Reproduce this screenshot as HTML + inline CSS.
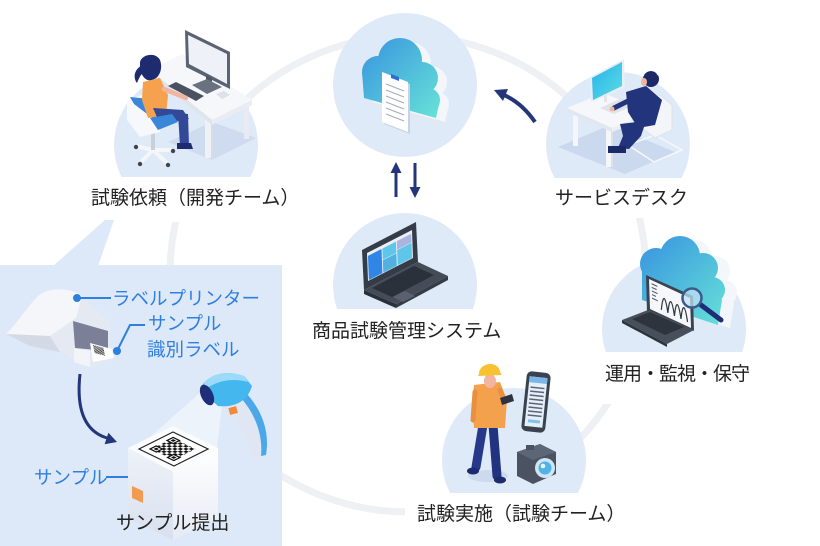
<!DOCTYPE html>
<html><head><meta charset="utf-8">
<style>
html,body{margin:0;padding:0;background:#fff;}
svg{display:block;}
text{font-family:"Liberation Sans","Noto Sans CJK JP",sans-serif;}
</style></head>
<body>
<svg width="820" height="546" viewBox="0 0 820 546" xmlns="http://www.w3.org/2000/svg">
<defs>
 <linearGradient id="cg1" gradientUnits="userSpaceOnUse" x1="360" y1="45" x2="440" y2="120">
  <stop offset="0" stop-color="#3a96df"/><stop offset="1" stop-color="#67e4d7"/>
 </linearGradient>
 <linearGradient id="cg2" gradientUnits="userSpaceOnUse" x1="640" y1="245" x2="725" y2="330">
  <stop offset="0" stop-color="#3a96df"/><stop offset="1" stop-color="#67e4d7"/>
 </linearGradient>
 <linearGradient id="scr" x1="0" y1="0" x2="1" y2="1">
  <stop offset="0" stop-color="#27b2e8"/><stop offset="1" stop-color="#5cdce6"/>
 </linearGradient>
 <linearGradient id="boxL" x1="0" y1="0" x2="0" y2="1">
  <stop offset="0" stop-color="#eef2f9"/><stop offset="1" stop-color="#d9e0ee"/>
 </linearGradient>
 <linearGradient id="boxR" x1="0" y1="0" x2="0" y2="1">
  <stop offset="0" stop-color="#ffffff"/><stop offset="1" stop-color="#e6ebf4"/>
 </linearGradient>
 <pattern id="chk" width="16" height="16" patternUnits="userSpaceOnUse">
  <rect width="8" height="8" fill="#111"/><rect x="8" y="8" width="8" height="8" fill="#111"/>
 </pattern>
</defs>

<rect width="820" height="546" fill="#fff"/>
<!-- ring -->
<circle cx="408" cy="274" r="238" fill="none" stroke="#eff0f3" stroke-width="7"/>

<!-- node circles -->
<g fill="#dfeaf8">
 <circle cx="186" cy="145" r="72"/>
 <circle cx="405" cy="85" r="72"/>
 <circle cx="618" cy="144" r="72"/>
 <circle cx="405" cy="285" r="72"/>
 <circle cx="674" cy="329" r="72"/>
 <circle cx="514" cy="460" r="72"/>
</g>

<!-- ===== Woman at desk ===== -->
<polygon points="168,142 212,122 256,138 212,160" fill="#cfdbee"/>
<rect x="205" y="118" width="6" height="40" fill="#eef1f6"/>
<rect x="211" y="118" width="2" height="40" fill="#d7dde8"/>
<rect x="244" y="103" width="5" height="36" fill="#e8ecf2"/>
<polygon points="150,70 182,54 252,100 212,120" fill="#f5f7fa"/>
<polygon points="150,70 212,120 212,125 150,75" fill="#dfe4ed"/>
<polygon points="212,120 252,100 252,105 212,125" fill="#e9edf3"/>
<!-- monitor -->
<polygon points="185,30 230,52 230,89 186,67" fill="#5b6373"/>
<polygon points="188,35 227,54 227,84 189,64" fill="#eef1f7"/>
<polygon points="206,75 212,78 212,88 206,85" fill="#4f5664"/>
<polygon points="192,85 207,79 222,87 207,94" fill="#6a7180"/>
<!-- keyboard -->
<polygon points="168,86 176,82 204,96 196,101" fill="#4a5160"/>
<polygon points="216,94 224,91 230,95 222,99" fill="#dde2ea"/>
<!-- chair -->
<g stroke="#f5f6fa" stroke-width="4" stroke-linecap="round">
 <line x1="153" y1="150" x2="136" y2="146"/>
 <line x1="153" y1="150" x2="140" y2="163"/>
 <line x1="153" y1="150" x2="168" y2="164"/>
 <line x1="153" y1="150" x2="172" y2="150"/>
</g>
<g fill="#3d4452">
 <circle cx="136" cy="147" r="2.2"/><circle cx="140" cy="164" r="2.2"/>
 <circle cx="168" cy="165" r="2.2"/><circle cx="173" cy="151" r="2.2"/>
</g>
<rect x="151" y="128" width="4" height="22" fill="#c9d0dc"/>
<polygon points="127,100 145,94 160,110 160,132 140,137 127,120" fill="#f7f8fb"/>
<polygon points="130,97 150,99 165,117 162,128 151,117 134,104" fill="#3a86d8"/>
<!-- woman -->
<path d="M140,62 C142,54 156,52 160,60 C163,68 160,78 152,80 C146,82 142,76 140,70 Z" fill="#1e2b6e"/>
<path d="M141,66 C134,70 133,78 137,83 C139,78 141,74 144,72 Z" fill="#1e2b6e"/>
<polygon points="143,82 160,78 168,95 166,115 148,118 142,100" fill="#f5a14d"/>
<line x1="164" y1="89" x2="186" y2="98" stroke="#f1b49e" stroke-width="4.5" stroke-linecap="round"/>
<polygon points="153,108 183,110 189,119 160,124" fill="#34489a"/>
<polygon points="178,113 188,114 189,146 180,146" fill="#34489a"/>
<polygon points="177,143 191,143 193,149 177,149" fill="#1e2b6e"/>
<polygon points="150,118 172,114 178,122 158,130" fill="#3a86d8"/>

<!-- ===== Cloud node ===== -->
<g fill="#f3f6fb" transform="translate(9,4)">
 <circle cx="378" cy="72" r="16"/><circle cx="400" cy="60" r="22"/>
 <circle cx="422" cy="78" r="16"/><circle cx="428" cy="100" r="12"/>
 <polygon points="362,72 420,70 440,100 436,118 364,98"/>
</g>
<g fill="#e3e9f3" transform="translate(9,4)">
 <polygon points="364,98 436,118 436,121 364,101"/>
</g>
<g fill="url(#cg1)">
 <circle cx="378" cy="72" r="16"/><circle cx="400" cy="60" r="22"/>
 <circle cx="422" cy="78" r="16"/><circle cx="428" cy="100" r="12"/>
 <polygon points="362,72 420,70 440,100 436,118 364,98"/>
</g>
<polygon points="384,74 410,84 410,134 384,124" fill="#c9d2e2"/>
<polygon points="382,72 408,82 408,132 382,122" fill="#ffffff"/>
<g stroke="#a3abbb" stroke-width="1">
 <line x1="386" y1="84" x2="404" y2="91"/><line x1="386" y1="90" x2="404" y2="97"/>
 <line x1="386" y1="96" x2="404" y2="103"/><line x1="386" y1="102" x2="404" y2="109"/>
 <line x1="386" y1="108" x2="404" y2="115"/><line x1="386" y1="114" x2="404" y2="121"/>
</g>
<polygon points="391,74 399,77 399,81 391,78" fill="#2d6fd1"/>

<!-- vertical arrows -->
<line x1="396" y1="197" x2="396" y2="171" stroke="#23367a" stroke-width="3"/>
<polygon points="396,162 390.5,173 401.5,173" fill="#23367a"/>
<line x1="415" y1="163" x2="415" y2="189" stroke="#23367a" stroke-width="3"/>
<polygon points="415,198 409.5,187 420.5,187" fill="#23367a"/>

<!-- curved arrow -->
<path d="M535,122 Q522,103 504,95" fill="none" stroke="#23367a" stroke-width="4"/>
<polygon points="494,90 508,89 503,101" fill="#23367a"/>

<!-- ===== Service desk ===== -->
<polygon points="558,147 610,125 675,152 625,174" fill="#cbd9ee"/>
<polygon points="628,145 655,135 682,150 654,162" fill="none" stroke="#f5f7fb" stroke-width="1.5"/>
<rect x="573" y="112" width="5" height="34" fill="#f5f6f9"/>
<rect x="606" y="122" width="5" height="45" fill="#f5f6f9"/>
<rect x="611" y="122" width="2" height="45" fill="#dbe1ea"/>
<polygon points="567,108 603,93 652,112 612,128" fill="#f6f7fa"/>
<polygon points="567,108 612,128 612,132 567,112" fill="#e2e7ef"/>
<polygon points="612,128 652,112 652,116 612,132" fill="#eceff4"/>
<polygon points="590,77 624,59 625,88 591,102" fill="#e9eef5"/>
<polygon points="592,78 622,62 622,86 593,100" fill="url(#scr)"/>
<rect x="604" y="94" width="3" height="8" fill="#e0e5ed"/>
<polygon points="600,108 622,98 637,104 614,114" fill="#dfe3ea"/>
<polygon points="642,103 660,95 672,105 672,130 655,138 642,128" fill="#f3f5f9" stroke="#dde3ec" stroke-width="1"/>
<polygon points="626,92 646,86 662,100 655,125 638,128 628,112" fill="#22347c"/>
<line x1="630" y1="100" x2="614" y2="108" stroke="#22347c" stroke-width="5" stroke-linecap="round"/>
<circle cx="612" cy="109" r="2.5" fill="#f1b49e"/>
<polygon points="620,124 646,121 641,136 629,149 618,148 623,136" fill="#22347c"/>
<polygon points="608,146 626,146 626,153 608,153" fill="#1b2a66"/>
<circle cx="651" cy="79" r="8" fill="#1b2a66"/>
<ellipse cx="644" cy="82" rx="3" ry="4" fill="#f1b49e"/>
<path d="M643,76 C644,69 656,68 658,75" fill="none" stroke="#ffffff" stroke-width="1.5"/>

<!-- ===== Laptop node ===== -->
<polygon points="362,250 416,222 418,262 364,290" fill="#343c48"/>
<g transform="matrix(0.45,-0.23,0.01,0.28,367,253)">
 <rect x="0" y="0" width="100" height="100" fill="#e9eef7"/>
 <rect x="2" y="12" width="30" height="86" fill="#2f86e6"/>
 <rect x="34" y="12" width="30" height="40" fill="#5ec7e9"/>
 <rect x="34" y="54" width="30" height="44" fill="#4fb2e0"/>
 <rect x="66" y="12" width="32" height="30" fill="#a9b5dd"/>
 <rect x="66" y="44" width="32" height="54" fill="#5ec7e9"/>
</g>
<polygon points="364,290 418,262 448,276 396,304" fill="#444c58"/>
<polygon points="364,290 396,304 396,308 364,294" fill="#2a3039"/>
<polygon points="396,304 448,276 448,280 396,308" fill="#353c46"/>
<polygon points="372,288 414,266 434,275 392,297" fill="#2b313b"/>
<polygon points="393,297 405,291 415,296 403,302" fill="#59616e"/>

<!-- ===== Monitoring node ===== -->
<g fill="#f3f6fb" transform="translate(12,3)">
 <circle cx="656" cy="264" r="16"/><circle cx="680" cy="256" r="20"/>
 <circle cx="703" cy="268" r="15"/><circle cx="712" cy="290" r="13"/>
 <polygon points="642,268 705,262 722,300 718,325 642,300"/>
</g>
<g fill="url(#cg2)">
 <circle cx="656" cy="264" r="16"/><circle cx="680" cy="256" r="20"/>
 <circle cx="703" cy="268" r="15"/><circle cx="712" cy="290" r="13"/>
 <polygon points="642,268 705,262 722,300 718,325 642,300"/>
</g>
<polygon points="646,275 693,296 694,331 647,313" fill="#3a4350"/>
<g transform="matrix(0.41,0.19,0.01,0.30,649,279)">
 <rect x="0" y="0" width="100" height="100" fill="#f5f7fb"/>
 <g fill="#555c68">
  <rect x="6" y="10" width="14" height="4"/><rect x="6" y="22" width="12" height="4"/>
  <rect x="6" y="34" width="14" height="4"/><rect x="6" y="46" width="10" height="4"/>
  <rect x="6" y="58" width="14" height="4"/>
 </g>
 <path d="M28,85 Q36,0 44,85 Q52,0 60,85 Q68,0 76,85 Q84,0 92,85" fill="none" stroke="#2f3640" stroke-width="1.2" vector-effect="non-scaling-stroke"/>
</g>
<polygon points="622,320 648,310 694,330 667,344" fill="#474f5b"/>
<polygon points="622,320 667,344 667,347 622,323" fill="#2d333c"/>
<polygon points="632,319 650,312 684,327 665,335" fill="#2e343d"/>
<line x1="701" y1="305" x2="721" y2="320" stroke="#1f2e7a" stroke-width="5" stroke-linecap="round"/>
<circle cx="692" cy="298" r="9.5" fill="#bfe2f4" fill-opacity="0.75" stroke="#3d5a8c" stroke-width="2.5"/>

<!-- ===== Test person node ===== -->
<ellipse cx="488" cy="476" rx="20" ry="6" fill="#cddaee"/>
<line x1="483" y1="425" x2="476" y2="467" stroke="#26388a" stroke-width="9" stroke-linecap="round"/>
<line x1="493" y1="425" x2="497" y2="476" stroke="#22337f" stroke-width="9" stroke-linecap="round"/>
<ellipse cx="473" cy="471" rx="6" ry="3.5" fill="#1d2a6e"/>
<ellipse cx="500" cy="480" rx="6" ry="3.5" fill="#1d2a6e"/>
<polygon points="474,385 500,382 507,400 505,428 474,428 472,405" fill="#f4a14e"/>
<line x1="475" y1="392" x2="473" y2="420" stroke="#e8903e" stroke-width="5" stroke-linecap="round"/>
<line x1="500" y1="390" x2="505" y2="402" stroke="#e8903e" stroke-width="5" stroke-linecap="round"/>
<polygon points="500,398 512,394 514,401 502,405" fill="#2d3440"/>
<ellipse cx="490" cy="381" rx="6" ry="7" fill="#f1b5a0"/>
<path d="M479,374 C479,362 499,360 500,372 L502,375 L478,376 Z" fill="#f6c232"/>
<g transform="rotate(6 536 402)">
 <rect x="524" y="372" width="24" height="60" rx="5" fill="#3a4250"/>
 <rect x="527" y="377" width="18" height="50" fill="#e6eef8"/>
 <rect x="527" y="377" width="18" height="6" fill="#7ab6e8"/>
 <g fill="#5c6577">
  <rect x="529" y="387" width="14" height="1.5"/><rect x="529" y="391" width="14" height="1.5"/>
  <rect x="529" y="395" width="14" height="1.5"/><rect x="529" y="399" width="14" height="1.5"/>
  <rect x="529" y="403" width="14" height="1.5"/><rect x="529" y="407" width="14" height="1.5"/>
  <rect x="529" y="411" width="14" height="1.5"/><rect x="529" y="415" width="14" height="1.5"/>
 </g>
 <rect x="530" y="420" width="12" height="3" fill="#7ec3ee"/>
</g>
<polygon points="517,452 540,444 556,452 556,474 533,484 517,476" fill="#4b5362"/>
<polygon points="517,452 540,444 556,452 533,460" fill="#5d6676"/>
<rect x="526" y="445" width="8" height="5" fill="#4b5362"/>
<circle cx="545" cy="468" r="10" fill="#cfe5f3"/>
<circle cx="545" cy="468" r="6.5" fill="#4fb3e5"/>
<circle cx="543" cy="466" r="2.3" fill="#e8f6fd"/>

<!-- ===== label bands ===== -->
<g fill="#ffffff">
 <rect x="80" y="177" width="225" height="45"/>
 <rect x="540" y="178" width="165" height="40"/>
 <rect x="300" y="309" width="215" height="51"/>
 <rect x="592" y="352" width="170" height="52"/>
 <rect x="405" y="493" width="225" height="42"/>
</g>

<!-- ===== left panel ===== -->
<polygon points="105,220 114,220 98,266 53,266" fill="#dde9f8"/>
<rect x="0" y="265" width="282" height="281" fill="#dde9f8"/>

<!-- printer -->
<path d="M6,334 C18,322 28,306 38,296 C48,287 70,287 82,296 L110,322 L110,360 L92,368 L60,352 Z" fill="#e4e9f2"/>
<path d="M6,334 C18,322 28,306 38,296 C48,287 70,287 82,296 L76,318 L50,336 Z" fill="#f4f6f9"/>
<polygon points="6,334 50,336 60,352 30,346" fill="#d3dae6"/>
<polygon points="73,321 108,331 108,351 75,348" fill="#7b7f98"/>
<polygon points="74,348 90,351 90,367 74,362" fill="#f3f4f8"/>
<polygon points="90,343 112,349 114,358 93,362" fill="#ffffff"/>
<g transform="matrix(0.13,0.035,0.02,0.1,93,345)">
 <rect x="0" y="0" width="80" height="80" fill="url(#chk)"/>
</g>
<!-- callouts -->
<g fill="#2e7fe0" stroke="#2e7fe0">
 <circle cx="77" cy="298" r="4" stroke="none"/>
 <line x1="77" y1="298" x2="111" y2="298" stroke-width="2"/>
 <circle cx="117" cy="351" r="4" stroke="none"/>
 <polyline points="117,351 130,325 145,325" fill="none" stroke-width="2"/>
 <circle cx="133" cy="477" r="4" stroke="none"/>
 <line x1="106" y1="477" x2="133" y2="477" stroke-width="2"/>
</g>
<!-- curved arrow -->
<path d="M80,374 Q74,428 107,438" fill="none" stroke="#23367a" stroke-width="3"/>
<polygon points="117,442 104.6,444.2 108.4,432.8" fill="#23367a"/>

<!-- scanner beam -->
<polygon points="203,390 222,406 217,448 140,446" fill="#ffffff" fill-opacity="0.45"/>
<!-- box -->
<polygon points="128,448 173,472 173,540 128,518" fill="url(#boxL)"/>
<polygon points="173,472 218,448 218,518 173,540" fill="url(#boxR)"/>
<polygon points="128,448 173,426 218,448 173,472" fill="#fbfcfe"/>
<polygon points="132,486 143,491 143,503 132,498" fill="#f39a4f"/>
<polygon points="139,449 173,432 208,449 174,466" fill="#ffffff" stroke="#222" stroke-width="1.2"/>
<g transform="matrix(0.34,-0.17,0.35,0.17,139,449)">
 <rect x="18" y="18" width="64" height="64" fill="url(#chk)"/>
 <rect x="14" y="14" width="22" height="22" fill="#111"/>
 <rect x="18" y="18" width="14" height="14" fill="#fff"/>
 <rect x="21" y="21" width="8" height="8" fill="#111"/>
 <rect x="64" y="14" width="22" height="22" fill="#111"/>
 <rect x="68" y="18" width="14" height="14" fill="#fff"/>
 <rect x="71" y="21" width="8" height="8" fill="#111"/>
 <rect x="14" y="64" width="22" height="22" fill="#111"/>
 <rect x="18" y="68" width="14" height="14" fill="#fff"/>
 <rect x="21" y="71" width="8" height="8" fill="#111"/>
</g>
<!-- scanner -->
<path d="M222,402 L246,393 C262,410 270,432 266,455 L251,457 C249,440 241,424 229,414 Z" fill="#e1e6f3"/>
<path d="M246,393 C262,410 270,432 266,455 L261,456 C263,434 255,414 241,398 Z" fill="#4aa8e8"/>
<path d="M200,390 C204,376 224,370 244,376 L252,386 C248,400 236,408 218,406 Z" fill="#45b7ef"/>
<path d="M204,383 C212,373 228,370 244,376 L248,382 C234,378 218,380 206,389 Z" fill="#9bdaf8"/>
<ellipse cx="207" cy="395" rx="6" ry="11" transform="rotate(-25 207 395)" fill="#1e2e78"/>
<rect x="229" y="407" width="8" height="7" fill="#f08a3a" transform="rotate(-15 233 410)"/>

<!-- ===== text ===== -->
<g fill="#222" font-size="19">
 <text x="91" y="204">試験依頼（開発チーム）</text>
 <text x="555" y="204">サービスデスク</text>
 <text x="312" y="337">商品試験管理システム</text>
 <text x="605" y="380" textLength="145" lengthAdjust="spacing">運用・監視・保守</text>
 <text x="417" y="520">試験実施（試験チーム）</text>
 <text x="116" y="529">サンプル提出</text>
</g>
<g fill="#2e7fe0" font-size="18.5">
 <text x="112" y="305">ラベルプリンター</text>
 <text x="148" y="330">サンプル</text>
 <text x="147" y="356">識別ラベル</text>
 <text x="34" y="484">サンプル</text>
</g>
</svg>
</body></html>
